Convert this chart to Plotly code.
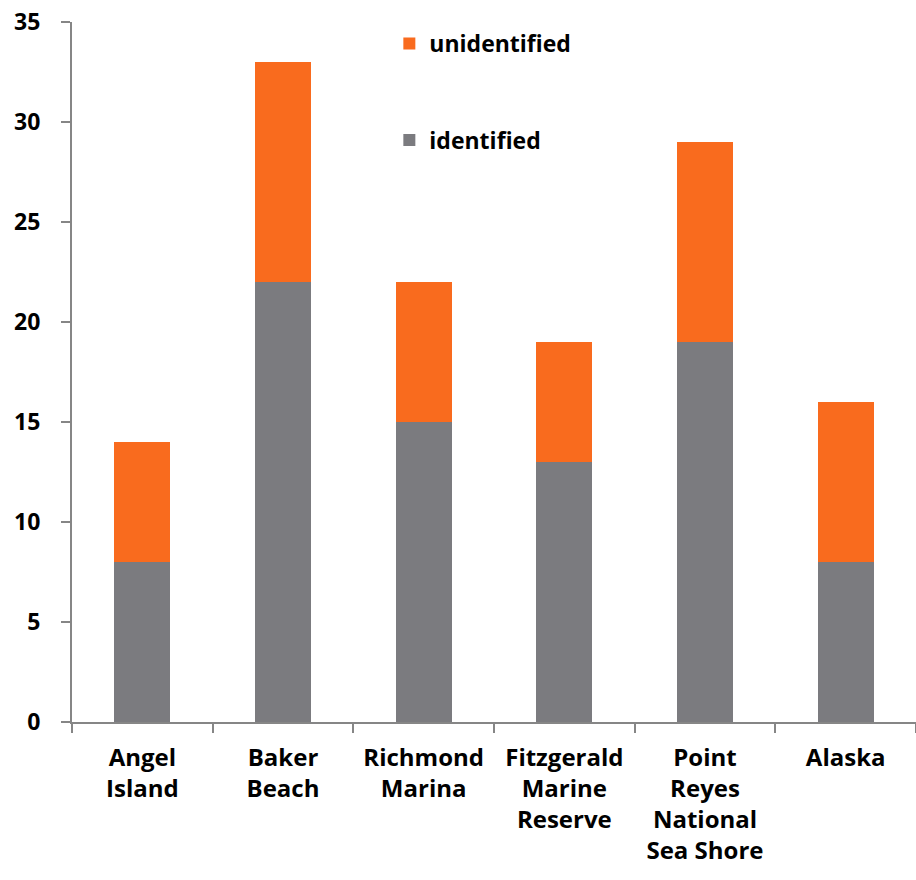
import plotly.graph_objects as go

categories = ["Angel<br>Island", "Baker<br>Beach", "Richmond<br>Marina",
              "Fitzgerald<br>Marine<br>Reserve", "Point<br>Reyes<br>National<br>Sea Shore", "Alaska"]
identified = [8, 22, 15, 13, 19, 8]
unidentified = [6, 11, 7, 6, 10, 8]
y_ticks = [0, 5, 10, 15, 20, 25, 30, 35]

GRAY = "#7b7b7f"
ORANGE = "#f96b1e"
AXIS = "#868686"
FONT = "Open Sans"

fig = go.Figure()
fig.add_trace(go.Bar(x=categories, y=identified, name="identified",
                     marker=dict(color=GRAY, line=dict(width=0)), width=0.4,
                     legend="legend2"))
fig.add_trace(go.Bar(x=categories, y=unidentified, name="unidentified",
                     marker=dict(color=ORANGE, line=dict(width=0)), width=0.4,
                     legend="legend"))

fig.update_layout(
    barmode="stack",
    width=916, height=880,
    margin=dict(l=72, r=0, t=22, b=158),
    paper_bgcolor="white", plot_bgcolor="white",
    font=dict(family=FONT, size=22, color="black"),
    showlegend=True,
    legend=dict(x=0.376, y=1.0, xanchor="left", yanchor="top",
                font=dict(family=FONT, size=23, color="black", weight="bold"),
                bgcolor="rgba(0,0,0,0)"),
    legend2=dict(x=0.376, y=0.862, xanchor="left", yanchor="top",
                 font=dict(family=FONT, size=23, color="black", weight="bold"),
                 bgcolor="rgba(0,0,0,0)"),
)
fig.update_xaxes(
    showline=True, linecolor=AXIS, linewidth=2,
    ticks="outside", tickson="boundaries", ticklen=9, tickcolor=AXIS, tickwidth=2,
    showgrid=False, zeroline=False, range=[-0.5, 5.5],
    tickfont=dict(family=FONT, size=24, color="black", weight="bold"),
    ticklabelstandoff=13,
)
fig.update_yaxes(
    range=[0, 35], tickvals=y_ticks,
    showline=True, linecolor=AXIS, linewidth=2,
    ticks="outside", ticklen=9, tickcolor=AXIS, tickwidth=2,
    showgrid=False, zeroline=False,
    tickfont=dict(family=FONT, size=23, color="black", weight="bold"),
    ticklabelstandoff=16,
)
fig.write_html("out.html")
